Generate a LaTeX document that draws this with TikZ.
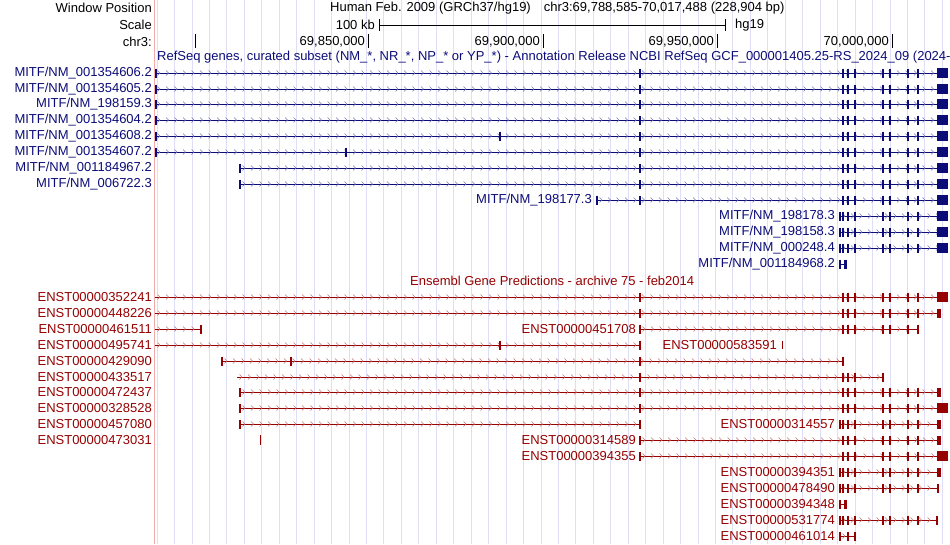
\documentclass[tikz,border=0pt]{standalone}
\usepackage{fontspec}
\setmainfont{Liberation Sans}
\usetikzlibrary{decorations.markings}
\definecolor{refblue}{RGB}{12,12,120}
\definecolor{ensred}{RGB}{150,0,0}
\definecolor{gridline}{RGB}{222,222,246}
\definecolor{pinkline}{RGB}{245,170,170}
\tikzstyle{lbl}=[anchor=east,inner sep=0pt,font=\fontsize{13}{14}\selectfont]
\tikzstyle{txt}=[anchor=west,inner sep=0pt,font=\fontsize{13}{14}\selectfont]
\tikzstyle{intron}=[#1,line width=1pt,postaction={decorate,decoration={markings,
  mark=between positions 5pt and -3pt step 8.5pt with {\draw[#1!55,line width=.6pt] (-2.5,2.5)--(0,0)--(-2.5,-2.5);}}}]
\newcommand\rx{843,848,855,883,890,908,918}
% one transcript: y, start, end, exons, colour
\newcommand\gn[5]{\draw[intron=#5] (#2,#1) -- (#3,#1);
  \edef\exl{#4}\foreach \e in \exl \draw[#5,line width=1.6pt] (\e,{#1-4.5}) -- (\e,{#1+4.5});}
\newcommand\bigx[2]{\fill[#2] (937,{#1-5}) rectangle (948,{#1+5});}
\newcommand\tailx[2]{\fill[#2] (937,{#1-4.5}) rectangle (941,{#1+4.5});}

\begin{document}
\begin{tikzpicture}[x=1pt,y=-1pt]
\useasboundingbox (0,0) rectangle (950,544);
\foreach \k in {0,...,45} \draw[gridline,line width=.8pt] ({157+17.45*\k},0) -- ({157+17.45*\k},544);
\draw[pinkline,line width=.8pt] (154,0) -- (154,544);
% header
\node[lbl] (win) at (152,8) {Window Position};
\node[lbl] (scl) at (152,25) {Scale};
\node[lbl] (chr) at (152,42) {chr3:};
\node[txt] (asm) at (330,8) {Human Feb. 2009 (GRCh37/hg19)\quad chr3:69,788,585-70,017,488 (228,904 bp)};
\node[lbl] (kb) at (375,25) {100 kb};
\node[txt] (hg) at (735,25) {hg19};
\coordinate (bl) at (379,25); \coordinate (br) at (725,25);
\draw (bl) -- (br); \draw (bl)++(0,-6) -- ++(0,12); \draw (br)++(0,-6) -- ++(0,12);
\draw (195,34) -- (195,48);
\foreach \t/\v in {368/69{,}850{,}000,543/69{,}900{,}000,717/69{,}950{,}000,892/70{,}000{,}000}{
  \draw (\t,34) -- (\t,48);
  \node[lbl] at (\t-3,42) {\v};}
% RefSeq
\node[txt,text=refblue] (rst) at (157,57) {RefSeq genes, curated subset (NM\_*, NR\_*, NP\_* or YP\_*) - Annotation Release NCBI RefSeq GCF\_000001405.25-RS\_2024\_09 (2024-09};
\foreach \y/\n/\s/\x in {73/MITF\slash NM\_001354606.2/155/{156,640},89/MITF\slash NM\_001354605.2/155/{156,640},
  104/MITF\slash NM\_198159.3/155/{156,640},120/MITF\slash NM\_001354604.2/155/{156,640},
  136/MITF\slash NM\_001354608.2/155/{156,500,640},152/MITF\slash NM\_001354607.2/155/{156,346,640},
  168/MITF\slash NM\_001184967.2/240/{240,640},184/MITF\slash NM\_006722.3/240/{240,640}}{
  \node[lbl,text=refblue] at (152,\y) {\n};
  \gn{\y}{\s}{948}{\x,\rx}{refblue} \bigx{\y}{refblue}}
\node[lbl,text=refblue] (r9) at (592,200) {MITF/NM\_198177.3};
\gn{200}{597}{948}{597,640,\rx}{refblue} \bigx{200}{refblue}
\foreach \y/\n in {216/MITF\slash NM\_198178.3,232/MITF\slash NM\_198158.3,248/MITF\slash NM\_000248.4}{
  \node[lbl,text=refblue] at (835,\y) {\n};
  \gn{\y}{840}{948}{840,\rx}{refblue} \bigx{\y}{refblue}}
\node[lbl,text=refblue] (r13) at (835,264) {MITF/NM\_001184968.2};
\gn{264}{840}{846}{840,845,846}{refblue}
% Ensembl
\node[txt,text=ensred] (ens) at (410,281) {Ensembl Gene Predictions - archive 75 - feb2014};
\node[lbl,text=ensred] at (152,297) {ENST00000352241}; \gn{297}{155}{948}{640,\rx}{ensred} \bigx{297}{ensred}
\node[lbl,text=ensred] at (152,313) {ENST00000448226}; \gn{313}{155}{941}{640,\rx}{ensred} \tailx{313}{ensred}
\node[lbl,text=ensred] at (152,329) {ENST00000461511}; \gn{329}{155}{201}{201}{ensred}
\node[lbl,text=ensred] at (636,329) {ENST00000451708}; \gn{329}{640}{918}{640,\rx}{ensred}
\node[lbl,text=ensred] at (152,345) {ENST00000495741}; \gn{345}{155}{640}{500,640}{ensred}
\node[lbl,text=ensred] at (777,345) {ENST00000583591}; \draw[ensred,line width=1pt] (782,341) -- (782,349);
\node[lbl,text=ensred] at (152,361) {ENST00000429090}; \gn{361}{222}{843}{222,291,640,843}{ensred}
\node[lbl,text=ensred] at (152,377) {ENST00000433517}; \gn{377}{237}{883}{640,843,848,855,883}{ensred}
\node[lbl,text=ensred] at (152,392) {ENST00000472437}; \gn{392}{240}{941}{240,640,\rx}{ensred} \tailx{392}{ensred}
\node[lbl,text=ensred] at (152,408) {ENST00000328528}; \gn{408}{240}{948}{240,640,\rx}{ensred} \bigx{408}{ensred}
\node[lbl,text=ensred] at (152,424) {ENST00000457080}; \gn{424}{240}{640}{240,640}{ensred}
\node[lbl,text=ensred] at (835,424) {ENST00000314557}; \gn{424}{840}{941}{840,\rx}{ensred} \tailx{424}{ensred}
\node[lbl,text=ensred] at (152,440) {ENST00000473031}; \draw[ensred,line width=1pt] (260,435) -- (260,445);
\node[lbl,text=ensred] at (636,440) {ENST00000314589}; \gn{440}{640}{941}{640,\rx}{ensred} \tailx{440}{ensred}
\node[lbl,text=ensred] at (636,456) {ENST00000394355}; \gn{456}{640}{948}{640,\rx}{ensred} \bigx{456}{ensred}
\node[lbl,text=ensred] at (835,472) {ENST00000394351}; \gn{472}{840}{941}{840,\rx}{ensred} \tailx{472}{ensred}
\node[lbl,text=ensred] at (835,488) {ENST00000478490}; \gn{488}{840}{939}{840,\rx,938}{ensred}
\node[lbl,text=ensred] at (835,504) {ENST00000394348}; \gn{504}{840}{847}{840,845,846}{ensred}
\node[lbl,text=ensred] at (835,520) {ENST00000531774}; \gn{520}{840}{937}{840,\rx,937}{ensred}
\node[lbl,text=ensred] at (835,536) {ENST00000461014}; \gn{536}{840}{855}{840,848,855}{ensred}
\end{tikzpicture}
\end{document}
